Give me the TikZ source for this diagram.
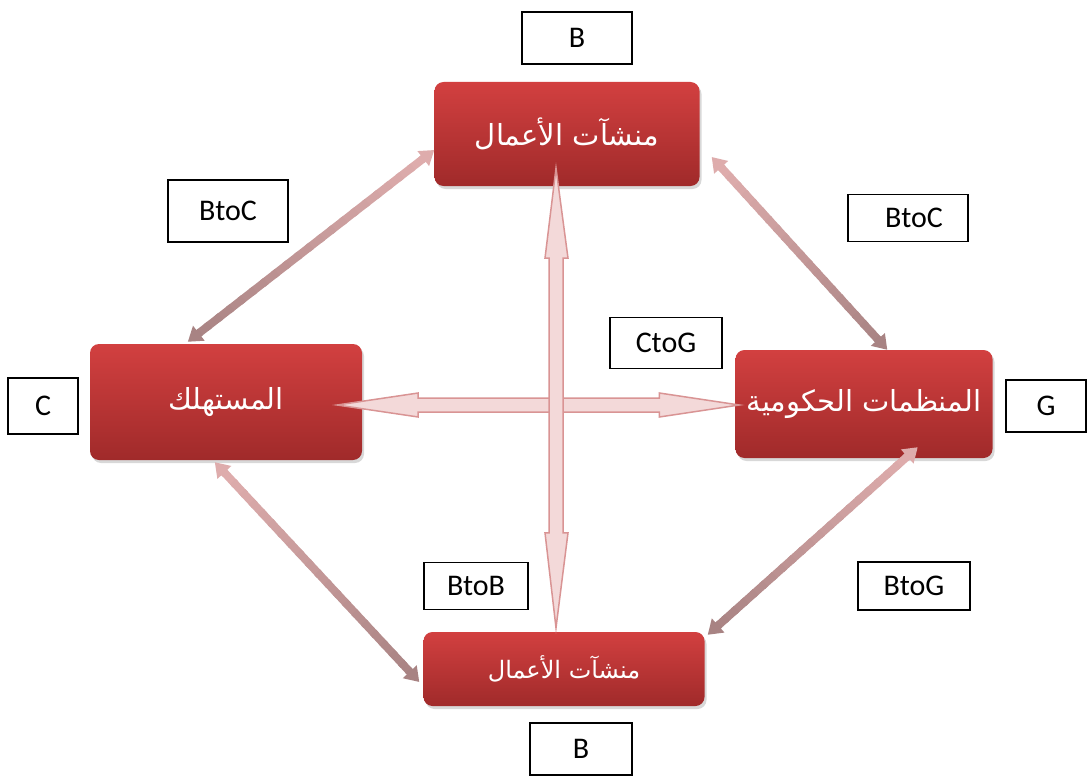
\documentclass[tikz,border=0pt]{standalone}
\usepackage{fontspec}
\setmainfont{Carlito}
\newfontfamily\arabicfont[Script=Arabic]{DejaVu Sans}
\TeXXeTstate=1
\usetikzlibrary{shadows,arrows.meta,calc}
\definecolor{redtop}{HTML}{D24040}
\definecolor{redbot}{HTML}{A02A2A}
\definecolor{arrfill}{HTML}{F3D9D9}
\definecolor{arrline}{HTML}{D99494}
\definecolor{diagA}{HTML}{DEACAC}
\definecolor{diagB}{HTML}{A88383}
\newcommand\gradarrow[2]{%
 \coordinate (ga) at #1; \coordinate (gb) at #2;
 \coordinate (ga2) at ($(ga)!13pt!(gb)$); \coordinate (gb2) at ($(gb)!13pt!(ga)$);
 \foreach \i in {0,...,19}{%
   \pgfmathtruncatemacro\p{100-\i*5}%
   \draw[line width=8pt, draw=diagA!\p!diagB] ($(ga2)!\i/20!(gb2)$) -- ($(ga2)!{(\i+1.3)/20}!(gb2)$);
 }
 \draw[line width=8pt, draw=diagA, -{Triangle[length=14pt,width=18pt]}] ($(ga)!16pt!(gb)$) -- (ga);
 \draw[line width=8pt, draw=diagB, -{Triangle[length=14pt,width=18pt]}] ($(gb)!16pt!(ga)$) -- (gb);
}
\begin{document}
\begin{tikzpicture}[x=1pt,y=-1pt,
 redbox/.style={rounded corners=9pt, top color=redtop, bottom color=redbot, draw=none, text=white,
   font=\arabicfont\fontsize{29}{34}\selectfont, inner sep=0pt,
   drop shadow={opacity=0.3, shadow xshift=2pt, shadow yshift=-3pt}},
 lbl/.style={draw=black, line width=1.2pt, fill=white, font=\fontsize{30}{34}\selectfont, inner sep=0pt},
 blockarrow/.style={fill=arrfill, draw=arrline, line width=1.5pt, line join=miter}]
\useasboundingbox (0,0) rectangle (1088,776);
\fill[white] (0,0) rectangle (1088,776);

% red boxes
\node[redbox, minimum width=265pt, minimum height=104pt] (T) at (567,134) {\beginR منشآت الأعمال\endR};
\node[redbox, minimum width=272pt, minimum height=116pt] (L) at (226,402) {\beginR المستهلك\endR};
\node[redbox, minimum width=257pt, minimum height=108pt] (R) at (864,404) {\beginR المنظمات الحكومية\endR};
\node[redbox, minimum width=281pt, minimum height=74pt, font=\arabicfont\fontsize{24}{28}\selectfont] (B2) at (564,669) {\beginR منشآت الأعمال\endR};

% labels
\node[lbl, minimum width=110pt, minimum height=52pt] (lB1) at (577,38) {B};
\node[lbl, minimum width=120pt, minimum height=62pt] (lBC1) at (228,211) {BtoC};
\node[lbl, minimum width=120pt, minimum height=47pt] (lBC2) at (908,218) {\hspace{12pt}BtoC};
\node[lbl, minimum width=112pt, minimum height=51pt] (lCG) at (666,343) {CtoG};
\node[lbl, minimum width=70pt, minimum height=56pt] (lC) at (43,406) {C};
\node[lbl, minimum width=80pt, minimum height=52pt] (lG) at (1046,406) {G};
\node[lbl, minimum width=104pt, minimum height=47pt] (lBB) at (476,586) {BtoB};
\node[lbl, minimum width=112pt, minimum height=48pt] (lBG) at (914,586) {BtoG};
\node[lbl, minimum width=102pt, minimum height=52pt] (lB2) at (581,749) {B};

% diagonal arrows (top end first: lighter)
\gradarrow{($(T.west)+(0,16)$)}{($(L.north west)+(98,-2)$)}
\gradarrow{($(T.east)+(12,23)$)}{($(R.north west)+(152,0)$)}
\gradarrow{($(L.south west)+(125,2)$)}{($(B2.west)+(-4,13)$)}
\gradarrow{($(R.south east)+(-75,-11)$)}{($(B2.north east)+(3,3)$)}

% horizontal block arrow
\coordinate (hA) at ($(L.east)+(-25,3)$);
\coordinate (hB) at ($(R.west)+(4,1)$);
\draw[blockarrow] (hA) -- ($(hA)+(81,-12)$) -- ($(hA)+(81,-7)$) -- ($(hB)+(-80,-7)$) -- ($(hB)+(-80,-12)$)
  -- (hB) -- ($(hB)+(-80,12)$) -- ($(hB)+(-80,7)$) -- ($(hA)+(81,7)$) -- ($(hA)+(81,12)$) -- cycle;

% vertical block arrow
\coordinate (vA) at ($(T.south)+(-11,-18)$);
\coordinate (vB) at ($(B2.north)+(-8,-4)$);
\draw[blockarrow] (vA) -- ($(vA)+(-11,90)$) -- ($(vA)+(-7,90)$) -- ($(vB)+(-7,-95)$) -- ($(vB)+(-11,-95)$)
  -- (vB) -- ($(vB)+(12,-95)$) -- ($(vB)+(7,-95)$) -- ($(vA)+(7,90)$) -- ($(vA)+(12,90)$) -- cycle;
\end{tikzpicture}
\end{document}
